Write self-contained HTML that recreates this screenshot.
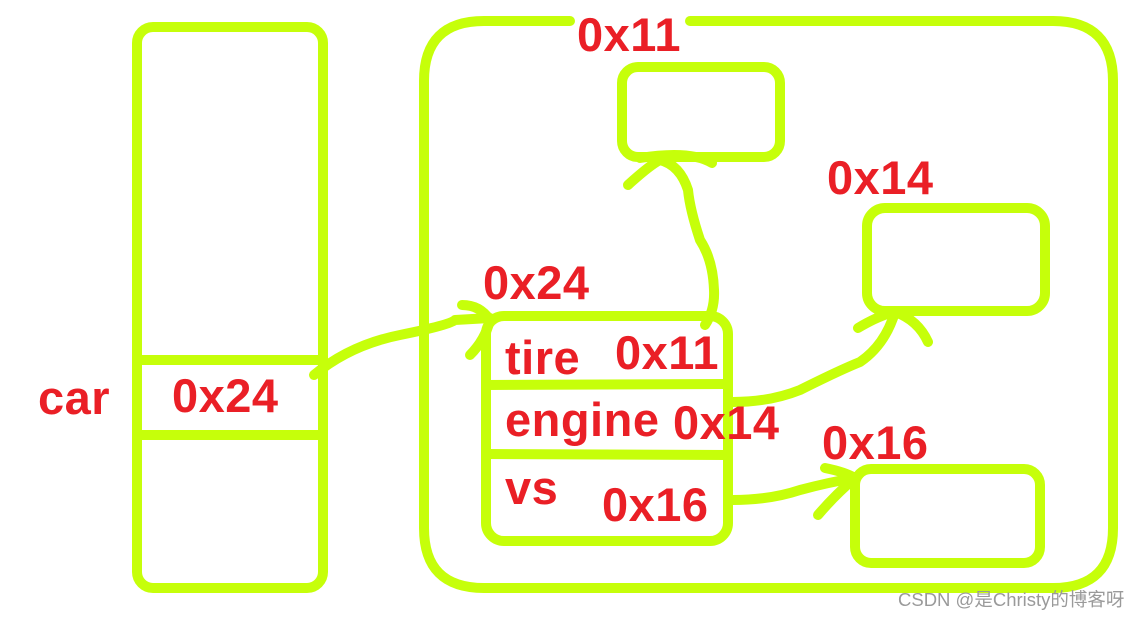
<!DOCTYPE html>
<html><head><meta charset="utf-8"><style>
html,body{margin:0;padding:0;background:#fff;width:1143px;height:619px;overflow:hidden}
svg{display:block}
text{font-family:"Liberation Sans","Noto Sans CJK SC",sans-serif;font-weight:bold;fill:#ea1f26}
</style></head><body>
<svg width="1143" height="619" viewBox="0 0 1143 619">
<g fill="none" stroke="#c6ff0a" stroke-width="10" stroke-linecap="round" stroke-linejoin="round">
<rect x="137" y="27" width="186" height="561" rx="16"/>
<line x1="137" y1="360" x2="323" y2="360"/>
<line x1="137" y1="435" x2="323" y2="435"/>
<path d="M570 21 H484 Q424 21 424 81 V528 Q424 588 484 588 H1053 Q1113 588 1113 528 V81 Q1113 21 1053 21 H690"/>
<rect x="622" y="67" width="158" height="90" rx="16"/>
<rect x="867" y="208" width="178" height="103" rx="18"/>
<rect x="855" y="469" width="185" height="94" rx="16"/>
<rect x="486" y="316" width="242" height="225" rx="18"/>
<line x1="486" y1="385" x2="728" y2="384"/>
<line x1="486" y1="454" x2="728" y2="455"/>
<path d="M314 375 Q350 345 400 335 Q450 325 455 320 L490 318"/>
<path d="M462 305 Q480 305 490 320 Q485 340 470 355"/>
<path d="M705 325 Q715 310 714 290 Q713 260 700 240 Q690 210 688 190 Q680 165 660 160 Q650 165 628 185"/>
<path d="M640 158 Q690 150 712 163"/>
<path d="M733 402 Q770 402 800 390 Q840 370 860 362 Q885 345 895 312"/>
<path d="M858 328 Q880 315 895 312 Q918 320 928 342"/>
<path d="M733 500 Q770 500 800 490 Q830 482 855 478"/>
<path d="M825 468 Q845 472 855 478 Q835 495 818 515"/>
</g>
<g font-size="47" style="letter-spacing:0.5px">
<text x="38" y="414">car</text>
<text x="172" y="412">0x24</text>
<text x="577" y="51">0x11</text>
<text x="827" y="194">0x14</text>
<text x="483" y="299">0x24</text>
<text x="505" y="374">tire</text>
<text x="615" y="369">0x11</text>
<text x="505" y="436">engine</text>
<text x="673" y="439">0x14</text>
<text x="505" y="504">vs</text>
<text x="602" y="521">0x16</text>
<text x="822" y="459">0x16</text>
</g>
<text x="898" y="606" font-size="18.5" style="font-weight:normal;fill:#9a9a9a">CSDN @是Christy的博客呀</text>
</svg>
</body></html>
